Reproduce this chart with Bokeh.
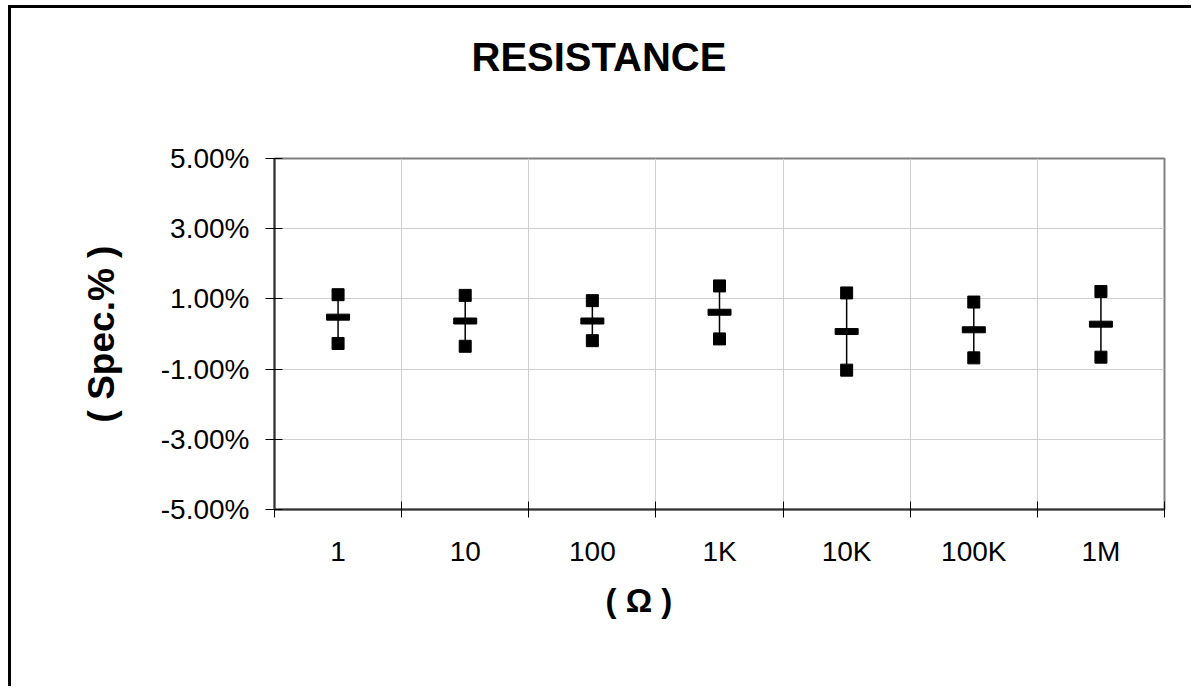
from bokeh.plotting import figure
from bokeh.models import FixedTicker, PrintfTickFormatter, Title, ColumnDataSource, Range1d
from bokeh.embed import file_html
from bokeh.resources import INLINE

# ---- data (percent of spec) ----
categories = ["1", "10", "100", "1K", "10K", "100K", "1M"]
max_vals = [1.12, 1.10, 0.95, 1.37, 1.17, 0.91, 1.21]
mean_vals = [0.48, 0.37, 0.37, 0.62, 0.07, 0.12, 0.28]
min_vals = [-0.27, -0.35, -0.19, -0.14, -1.03, -0.68, -0.66]
y_ticks = [-5, -3, -1, 1, 3, 5]
title_text = "RESISTANCE"
x_title = "( Ω )"
y_title = "( Spec.% )"

FONT = "Liberation Sans"
n = len(categories)
xs = [i + 0.5 for i in range(n)]

src = ColumnDataSource(dict(x=xs, cat=categories, hi=max_vals, mid=mean_vals, lo=min_vals))

p = figure(width=1183, height=681, output_backend="svg", toolbar_location=None,
           x_range=Range1d(0, n), y_range=Range1d(y_ticks[0], y_ticks[-1]),
           min_border_left=266, min_border_right=27, min_border_top=0,
           min_border_bottom=177, title_location=None)
p.styles = {"box-shadow": "inset 3px 3px 0px 0px black",
            "margin-left": "8px", "margin-top": "5px"}

p.background_fill_color = "white"
p.border_fill_color = None
p.outline_line_color = "#808080"
p.outline_line_width = 2

# spacer between frame and title, then the title itself
p.add_layout(Title(text=" ", text_font=FONT, text_font_size="20px", standoff=28), "above")
p.add_layout(Title(text=title_text, align="left", offset=197, standoff=55,
                   text_font=FONT, text_font_size="40px", text_font_style="bold",
                   text_color="black"), "above")

# x axis
xa = p.xaxis[0]
xa.ticker = FixedTicker(ticks=xs, minor_ticks=list(range(n + 1)))
xa.major_label_overrides = {x: c for x, c in zip(xs, categories)}
xa.major_tick_in = 0
xa.major_tick_out = 0
xa.minor_tick_in = 8
xa.minor_tick_out = 8
xa.minor_tick_line_color = "black"
xa.minor_tick_line_width = 1
xa.axis_line_color = "#333333"
xa.axis_line_width = 2
xa.major_label_text_font = FONT
xa.major_label_text_font_size = "28px"
xa.major_label_text_color = "black"
xa.major_label_standoff = 18

p.add_layout(Title(text=x_title, align="left", offset=331, standoff=20,
                   text_font=FONT, text_font_size="33px", text_font_style="bold",
                   text_color="black"), "below")

# y axis
ya = p.yaxis[0]
ya.ticker = FixedTicker(ticks=y_ticks, minor_ticks=[])
ya.formatter = PrintfTickFormatter(format="%.2f%%")
ya.major_tick_in = 8
ya.major_tick_out = 9
ya.major_tick_line_color = "black"
ya.axis_line_color = "#333333"
ya.axis_line_width = 2
ya.major_label_text_font = FONT
ya.major_label_text_font_size = "28px"
ya.major_label_text_color = "black"
ya.major_label_standoff = 16
ya.axis_label = y_title
ya.axis_label_text_font = FONT
ya.axis_label_text_font_size = "37px"
ya.axis_label_text_font_style = "bold"
ya.axis_label_text_color = "black"
ya.axis_label_standoff = 36

# grids
p.xgrid.ticker = FixedTicker(ticks=list(range(1, n)))
p.xgrid.grid_line_color = "#cfcfcf"
p.xgrid.grid_line_width = 1
p.ygrid.grid_line_color = "#cfcfcf"
p.ygrid.grid_line_width = 1

# data marks
p.segment(x0="x", y0="lo", x1="x", y1="hi", source=src, line_color="black", line_width=1.5)
p.rect(x="x", y="mid", width=23, height=6, width_units="screen", height_units="screen",
       source=src, fill_color="black", line_color="black")
p.scatter(x="x", y="hi", source=src, marker="square", size=12,
          fill_color="black", line_color="black")
p.scatter(x="x", y="lo", source=src, marker="square", size=12,
          fill_color="black", line_color="black")

open("out.html", "w").write(file_html(p, INLINE))
